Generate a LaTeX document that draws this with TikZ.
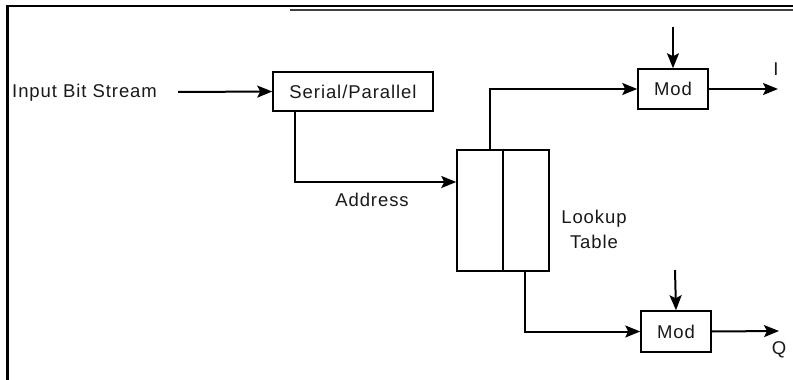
\documentclass[tikz,border=0pt]{standalone}
\usepackage{fontspec}
\setmainfont{Liberation Sans}
\newfontfamily\lblfont[LetterSpace=5]{Liberation Sans}
\usetikzlibrary{arrows.meta}
\begin{document}
\begin{tikzpicture}[x=1pt,y=-1pt,
  lbl/.style={font=\lblfont\fontsize{18.5}{25}\selectfont, inner sep=0pt, text=black!90},
  blk/.style={draw, line width=1.5pt, inner sep=0pt, anchor=center, font=\lblfont\fontsize{18.5}{18}\selectfont, text=black!90},
  conn/.style={line width=2pt, -{Stealth[length=15pt,width=12pt,inset=3pt]}},
  wire/.style={line width=2pt}]
\useasboundingbox (0,0) rectangle (793,380);
% frame
\draw[line width=2.4pt] (7.5,380) -- (7.5,6) -- (793,6);
\draw[line width=1.4pt, black!75] (290,10) -- (793,10);
% nodes
\node[lbl, anchor=west] (inlbl) at (12,93) {Input Bit Stream};
\coordinate (inS) at (178,92);
\node[blk, minimum width=160pt, minimum height=39pt] (sp) at (353,91.5) {Serial/Parallel};
\node[blk, minimum width=92pt, minimum height=121pt] (lut) at (503,210.5) {};
\draw[line width=1.5pt] (lut.north) -- (lut.south);
\node[blk, minimum width=70pt, minimum height=40pt] (modI) at (673,89) {Mod};
\node[blk, minimum width=70pt, minimum height=41pt] (modQ) at (676,331.5) {Mod};
\coordinate (cI) at (673,27);
\coordinate (cQ) at (675,270);
\coordinate (oI) at (778,89);
\coordinate (oQ) at (779,331);
\node[lbl] (addr) at (372,200) {Address};
\node[lbl, align=center] (lutlbl) at (594,229) {Lookup\\Table};
\node[lbl] (ilbl) at (776,69) {I};
\node[lbl] (qlbl) at (779,350) {Q};
% connectors
\draw[conn] (inS) -- (sp.west);
\draw[conn] ([xshift=23pt]sp.south west) |- ([yshift=28.5pt]lut.west);
\draw[conn] ([xshift=34pt]lut.north west) |- (modI.west);
\draw[conn] ([xshift=69pt]lut.south west) |- (modQ.west);
\draw[conn] (cI) -- (modI.north);
\draw[conn] (cQ) -- (modQ.north);
\draw[conn] (modI.east) -- (oI);
\draw[conn] (modQ.east) -- (oQ);
\end{tikzpicture}
\end{document}
